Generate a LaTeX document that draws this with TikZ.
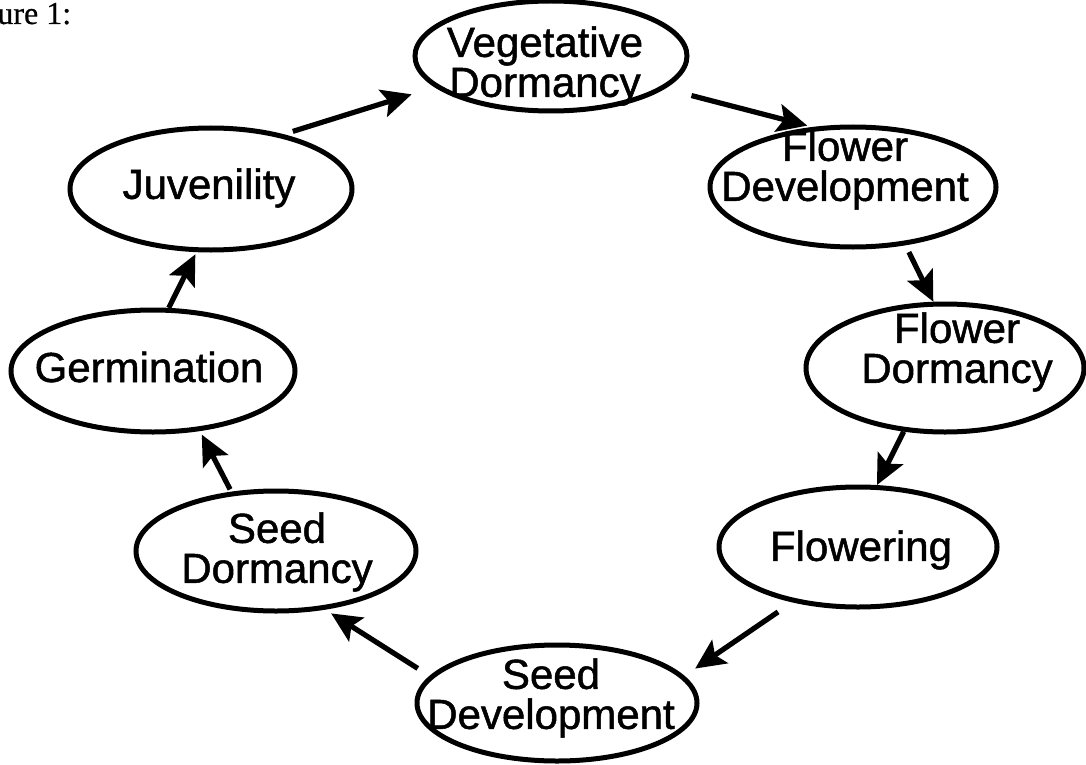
\documentclass[tikz,border=0pt]{standalone}
\usepackage{fontspec}
\setmainfont{Liberation Sans}
\newfontfamily\labfont[FakeBold=1.2]{Liberation Sans}
\newfontfamily\figfont[FakeBold=0.6]{Liberation Serif}
\usetikzlibrary{shapes.geometric,arrows.meta}
\begin{document}
\begin{tikzpicture}[x=0.5pt,y=-0.5pt,
  ph/.style 2 args={ellipse, draw, line width=2.5pt, inner sep=0pt, minimum width=#1pt, minimum height=#2pt},
  lab/.style={align=center, inner sep=0pt, font=\labfont\fontsize{21}{20}\selectfont},
  arr/.style={line width=2.6pt, -{Stealth[length=15pt,width=14pt,inset=3pt]}}]
\useasboundingbox (0,0) rectangle (1086,765);
% caption (cropped in the original)
\node[anchor=base west, inner sep=0pt, font=\figfont\fontsize{16}{18}\selectfont] (cap) at (-3,24) {ure 1:};
% ellipses
\node[ph={136}{55}] (vd) at (551,56) {};
\node[ph={143}{60}] (fd) at (853,187) {};
\node[ph={139}{64}] (fo) at (945,368) {};
\node[ph={139}{60}] (fl) at (858,547) {};
\node[ph={140}{58}] (sv) at (557,703) {};
\node[ph={140}{60}] (sd) at (276,551) {};
\node[ph={142}{61}] (ge) at (153,371) {};
\node[ph={141}{61}] (jv) at (211,189) {};
% texts
\node[lab] (vdt) at (545,66) {Vegetative\\Dormancy};
\node[lab] (fdt) at (845,170) {Flower\\Development};
\node[lab] (fot) at (957,352) {Flower\\Dormancy};
\node[lab] (flt) at (861,550) {Flowering};
\node[lab] (svt) at (551,698) {Seed\\Development};
\node[lab] (sdt) at (277,552) {Seed\\Dormancy};
\node[lab] (get) at (149,367) {Germination};
\node[lab] (jvt) at (209,188) {Juvenility};
% arrows
\draw[arr, shorten <=4.8pt, shorten >=12pt] (jv.37.5) -- (vd.195.7);
\draw[arr, shorten <=13.7pt, shorten >=2.7pt] (vd.-16.9) -- (fd.124.7);
\draw[arr, shorten <=3.8pt] (fd.-48.4) -- (fo.100.8);
\draw[arr] (fo.237.2) -- (fl.73.9);
\draw[arr, shorten <=8.5pt, shorten >=6.5pt] (fl.220.9) -- (sv.12.9);
\draw[arr, shorten <=7pt, shorten >=3.5pt] (sv.168.7) -- (sd.-50);
\draw[arr, shorten <=1.3pt, shorten >=2pt] (sd.127.9) -- (ge.-52.4);
\draw[arr, shorten >=1.2pt] (ge.76.2) -- (jv.257.5);
\end{tikzpicture}
\end{document}
